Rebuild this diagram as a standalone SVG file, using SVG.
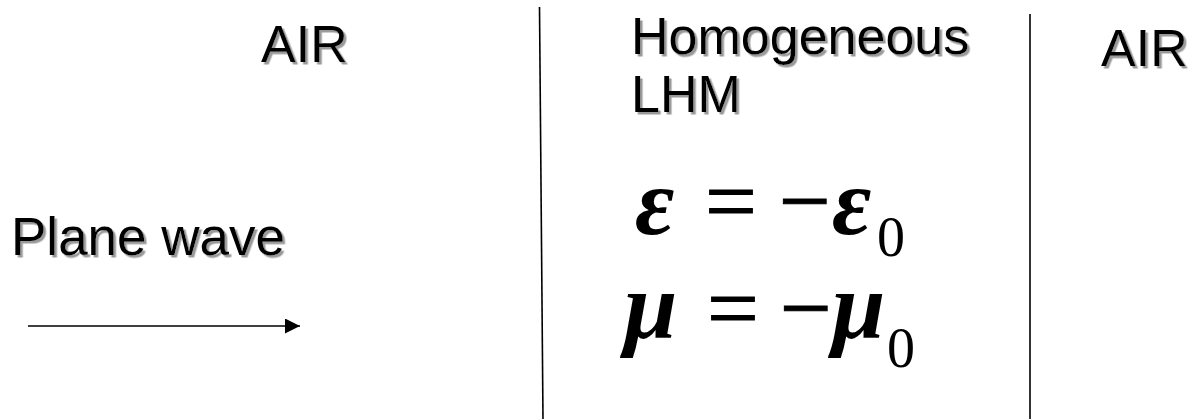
<svg xmlns="http://www.w3.org/2000/svg" width="1190" height="419" viewBox="0 0 1190 419">
<style>
.lbl{font-family:"Liberation Sans",Arial,sans-serif;font-size:52px;fill:#000;filter:url(#sh)}
.m{font-family:"Liberation Serif","Times New Roman",serif;font-size:90px;fill:#000}
.op{font-size:92px;stroke:#000;stroke-width:1}
.g{font-style:italic;font-weight:bold;font-size:96px}
.sub{font-size:56px}
.ln{stroke:#000;stroke-width:1.6;fill:none}
</style>
<defs>
<filter id="sh" x="-10%" y="-20%" width="120%" height="150%">
<feDropShadow dx="2.5" dy="2.5" stdDeviation="0.6" flood-color="#9a9a9a" flood-opacity="1"/>
</filter>
<marker id="ah" viewBox="0 0 10 10" refX="10" refY="5" markerWidth="15" markerHeight="15" markerUnits="userSpaceOnUse" orient="auto">
<path d="M0,0 L10,5 L0,10 z" fill="#000"/>
</marker>
</defs>
<g id="air-left"><text class="lbl" x="261" y="62">AIR</text></g>
<g id="lhm-label"><text class="lbl" x="631" y="54">Homogeneous</text><text class="lbl" x="631" y="112">LHM</text></g>
<g id="air-right"><text class="lbl" x="1101" y="66">AIR</text></g>
<g id="plane-wave"><text class="lbl" x="11" y="255" style="font-size:53px">Plane wave</text></g>
<g id="eq-eps">
<text class="m g" x="635" y="234">ε</text>
<text class="m op" x="705" y="232">=</text>
<text class="m op" x="779" y="232">−</text>
<text class="m g" x="832" y="234">ε</text>
<text class="m sub" x="877" y="256">0</text>
</g>
<g id="eq-mu">
<text class="m g" x="624" y="338">μ</text>
<text class="m op" x="707" y="339">=</text>
<text class="m op" x="780" y="339">−</text>
<text class="m g" x="832" y="338">μ</text>
<text class="m sub" x="887" y="367">0</text>
</g>
<g id="connectors">
<line class="ln" x1="539.5" y1="7" x2="543" y2="419"/>
<line class="ln" x1="1030" y1="14" x2="1030" y2="419"/>
<line class="ln" x1="28" y1="326" x2="300" y2="326" stroke-width="2" marker-end="url(#ah)"/>
</g>
</svg>
